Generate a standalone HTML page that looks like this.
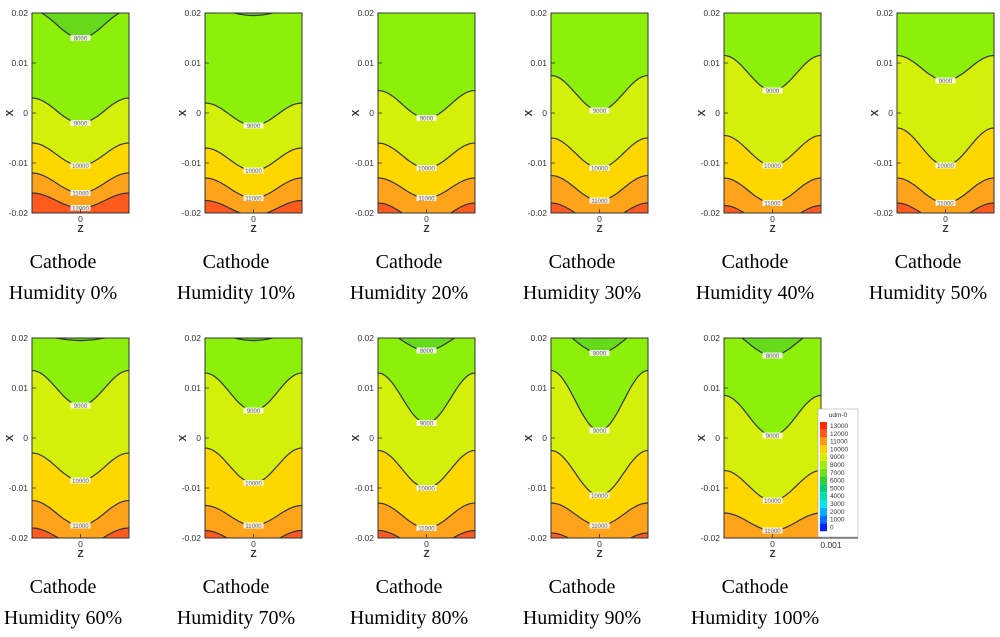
<!DOCTYPE html>
<html><head><meta charset="utf-8"><style>
html,body{margin:0;padding:0;background:#fff;}
svg{display:block;font-family:"Liberation Sans",sans-serif;}
.cap{font-family:"Liberation Serif",serif;font-size:20px;fill:#000;}
.tk{font-size:8.5px;fill:#333;}
</style></head><body>
<svg id="chart" width="1000" height="637" viewBox="0 0 1000 637" xmlns="http://www.w3.org/2000/svg"></svg>
<script>
const humidity = ["0%","10%","20%","30%","40%","50%","60%","70%","80%","90%","100%"];
const levels = [8000, 9000, 10000, 11000, 12000];
// contour x-position at plot edges and at z=0 center, per level, per panel
const edge8000   = [0.0205,0.021,0.025,0.025,0.025,0.025,0.0205,0.021,0.0215,0.022,0.0215];
const center8000 = [0.015,0.0195,0.024,0.024,0.024,0.024,0.0195,0.0195,0.0175,0.017,0.0165];
const edge9000   = [0.003,0.002,0.0045,0.0075,0.0115,0.0115,0.0135,0.013,0.013,0.0135,0.0085];
const center9000 = [-0.002,-0.0025,-0.001,0.0005,0.0045,0.0065,0.0065,0.0055,0.003,0.0015,0.0005];
const edge10000   = [-0.006,-0.007,-0.006,-0.005,-0.0045,-0.003,-0.003,-0.002,-0.0025,-0.0025,-0.0065];
const center10000 = [-0.0105,-0.0115,-0.011,-0.011,-0.0105,-0.0105,-0.0085,-0.009,-0.01,-0.0115,-0.0125];
const edge11000   = [-0.012,-0.013,-0.013,-0.0125,-0.013,-0.013,-0.0125,-0.0135,-0.013,-0.013,-0.015];
const center11000 = [-0.016,-0.017,-0.017,-0.0175,-0.018,-0.018,-0.0175,-0.0175,-0.018,-0.0175,-0.0185];
const edge12000   = [-0.016,-0.0175,-0.018,-0.018,-0.0185,-0.018,-0.018,-0.0185,-0.0185,-0.019,-0.025];
const center12000 = [-0.019,-0.0205,-0.022,-0.022,-0.0225,-0.022,-0.0215,-0.022,-0.022,-0.0225,-0.026];
const yTicks = [0.02, 0.01, 0, -0.01, -0.02];
const yTickLabels = ["0.02","0.01","0","-0.01","-0.02"];
const legendLabels = ["13000","12000","11000","10000","9000","8000","7000","6000","5000","4000","3000","2000","1000","0"];

const edges = [edge8000, edge9000, edge10000, edge11000, edge12000];
const centers = [center8000, center9000, center10000, center11000, center12000];
const aboveColors = ["#66d91a","#8cf00a","#d4ef0a","#ffd700","#ffa31a"];
const bottomColor = "#ff5a1e";
const legendColors = ["#ff2a00","#ff5a1e","#ff9a10","#ffd000","#d8f000","#9ef00a","#6ce01a","#30d030","#00d070","#00e0b0","#00e8e8","#00b0ff","#0070ff","#0020ff"];

const NS = "http://www.w3.org/2000/svg";
const svg = document.getElementById("chart");
function mk(tag, attrs, parent){const e=document.createElementNS(NS,tag);for(const k in attrs)e.setAttribute(k,attrs[k]);(parent||svg).appendChild(e);return e;}

const W = 97, H = 200;
function panelPos(i){const col=i<6?i:i-6;const row=i<6?0:1;return {x:32+173*col,y:row===0?13:338};}

humidity.forEach((h,i)=>{
  const p = panelPos(i);
  const yScale = v => p.y + (0.02 - v)/0.04*H;
  const g = mk("g",{});
  
  
  const cid = "clip"+i;
  const cp = mk("clipPath",{id:cid},g);
  mk("rect",{x:p.x,y:p.y,width:W,height:H},cp);
  const inner = mk("g",{"clip-path":"url(#"+cid+")"},g);
  mk("rect",{x:p.x,y:p.y,width:W,height:H,fill:bottomColor},inner);
  function curvePts(L){
    const pts=[];
    for(let k=0;k<=40;k++){
      const u=-1+2*k/40;
      const v=edges[L][i]-(edges[L][i]-centers[L][i])*(1+Math.cos(Math.PI*u))/2;
      pts.push([p.x+W*k/40, yScale(v)]);
    }
    return pts;
  }
  for(let L=levels.length-1;L>=0;L--){
    const pts=curvePts(L);
    let d="M"+p.x+","+(p.y-20)+" L"+pts.map(q=>q[0].toFixed(1)+","+q[1].toFixed(1)).join(" L")+" L"+(p.x+W)+","+(p.y-20)+"Z";
    const band = mk("path",{d:d,fill:aboveColors[L]},inner);
    
    
  }
  for(let L=0;L<levels.length;L++){
    const pts=curvePts(L);
    const line = mk("path",{d:"M"+pts.map(q=>q[0].toFixed(1)+","+q[1].toFixed(1)).join(" L"),fill:"none",stroke:"#333","stroke-width":1.2},inner);
    
    
    const cy = yScale(centers[L][i]);
    if(cy>p.y+3 && cy<p.y+H-2){
      mk("rect",{x:p.x+W/2-10,y:cy-3,width:20,height:6,fill:"#fff",opacity:0.85},inner);
      const t = mk("text",{x:p.x+W/2,y:cy+2.5,"text-anchor":"middle","font-size":6,fill:"#666"},inner);
      t.textContent=levels[L];
      
      
    }
  }
  mk("rect",{x:p.x,y:p.y,width:W,height:H,fill:"none",stroke:"#333","stroke-width":1},g);
  yTicks.forEach((v,k)=>{
    const y=yScale(v);
    mk("line",{x1:p.x,x2:p.x+4,y1:y,y2:y,stroke:"#333","stroke-width":0.8},g);
    const t=mk("text",{x:p.x-4,y:y+3,"text-anchor":"end",class:"tk"},g);
    t.textContent=yTickLabels[k];
    
    
  });
  const xl=mk("text",{x:p.x-23,y:p.y+H/2+4,"font-size":10,"font-weight":"bold",fill:"#333","text-anchor":"middle",transform:"rotate(-90 "+(p.x-23)+" "+(p.y+H/2)+")"},g);
  xl.textContent="X";
  
  
  mk("line",{x1:p.x+W/2,x2:p.x+W/2,y1:p.y+H,y2:p.y+H-4,stroke:"#333","stroke-width":0.8},g);
  const z0=mk("text",{x:p.x+W/2,y:p.y+H+9,"text-anchor":"middle",class:"tk"},g);
  z0.textContent="0";
  
  
  const zl=mk("text",{x:p.x+W/2,y:p.y+H+19,"font-size":10,"font-weight":"bold",fill:"#333","text-anchor":"middle"},g);
  zl.textContent="Z";
  
  
  const cx=p.x+31;
  const c1=mk("text",{x:cx,y:p.y+H+55,"text-anchor":"middle",class:"cap"},g);
  c1.textContent="Cathode";
  
  
  const c2=mk("text",{x:cx,y:p.y+H+86,"text-anchor":"middle",class:"cap"},g);
  c2.textContent="Humidity "+h;
  
  
});

// legend in last panel
const lp = panelPos(10);
const lg = mk("g",{});


mk("line",{x1:lp.x+W,x2:lp.x+W+37,y1:lp.y+H,y2:lp.y+H,stroke:"#333","stroke-width":1},lg);
mk("line",{x1:lp.x+W+10,x2:lp.x+W+10,y1:lp.y+H,y2:lp.y+H-4,stroke:"#333","stroke-width":0.8},lg);
const t001=mk("text",{x:lp.x+W+10,y:lp.y+H+10,"text-anchor":"middle",class:"tk"},lg);
t001.textContent="0.001";


mk("rect",{x:818,y:409,width:40,height:128,fill:"#fff",stroke:"#aaa","stroke-width":0.6},lg);
const lt=mk("text",{x:838,y:417,"text-anchor":"middle","font-size":6.5,fill:"#333"},lg);
lt.textContent="udm-0";
legendLabels.forEach((lab,k)=>{
  const y=422+k*7.8;
  const sw=mk("rect",{x:820,y:y,width:7,height:7.8,fill:legendColors[k]},lg);
  
  
  const t=mk("text",{x:830,y:y+6,"font-size":6.5,fill:"#333"},lg);
  t.textContent=lab;
  
  
});
</script>
</body></html>
